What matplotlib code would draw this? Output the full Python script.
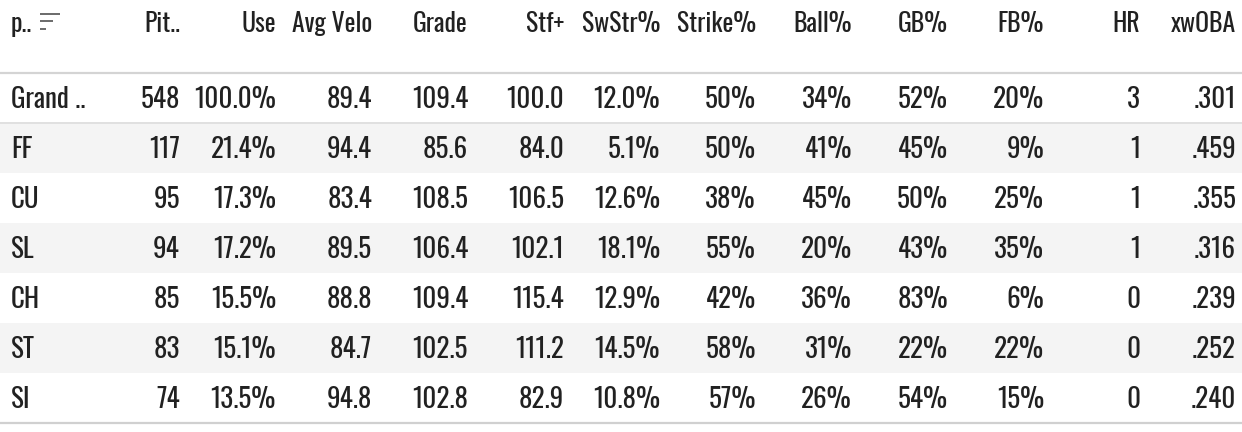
import matplotlib
matplotlib.use('Agg')
import matplotlib.pyplot as plt
from matplotlib.patches import Rectangle
from matplotlib import font_manager
from matplotlib.font_manager import FontProperties

# ---------------------------------------------------------------------------
# Table data
# ---------------------------------------------------------------------------
pitch_types = ['Grand ..', 'FF', 'CU', 'SL', 'CH', 'ST', 'SI']
pitches     = [548, 117, 95, 94, 85, 83, 74]
use_pct     = [100.0, 21.4, 17.3, 17.2, 15.5, 15.1, 13.5]
avg_velo    = [89.4, 94.4, 83.4, 89.5, 88.8, 84.7, 94.8]
grade       = [109.4, 85.6, 108.5, 106.4, 109.4, 102.5, 102.8]
stuff_plus  = [100.0, 84.0, 106.5, 102.1, 115.4, 111.2, 82.9]
swstr_pct   = [12.0, 5.1, 12.6, 18.1, 12.9, 14.5, 10.8]
strike_pct  = [50, 50, 38, 55, 42, 58, 57]
ball_pct    = [34, 41, 45, 20, 36, 31, 26]
gb_pct      = [52, 45, 50, 43, 83, 22, 54]
fb_pct      = [20, 9, 25, 35, 6, 22, 15]
home_runs   = [3, 1, 1, 1, 0, 0, 0]
xwoba       = [0.301, 0.459, 0.355, 0.316, 0.239, 0.252, 0.240]

headers = ['p..', 'Pit..', 'Use', 'Avg Velo', 'Grade', 'Stf+', 'SwStr%',
           'Strike%', 'Ball%', 'GB%', 'FB%', 'HR', 'xwOBA']

columns = [
    [str(v) for v in pitches],
    [f'{v:.1f}%' for v in use_pct],
    [f'{v:.1f}' for v in avg_velo],
    [f'{v:.1f}' for v in grade],
    [f'{v:.1f}' for v in stuff_plus],
    [f'{v:.1f}%' for v in swstr_pct],
    [f'{v}%' for v in strike_pct],
    [f'{v}%' for v in ball_pct],
    [f'{v}%' for v in gb_pct],
    [f'{v}%' for v in fb_pct],
    [str(v) for v in home_runs],
    [f'{v:.3f}'.lstrip('0') for v in xwoba],
]


# pick a condensed face (closest to regular weight) if one is installed
def condensed_font(size):
    for fam in ['Oswald', 'Roboto Condensed', 'Barlow Condensed', 'Liberation Sans Narrow']:
        cands = [f for f in font_manager.fontManager.ttflist
                 if f.name == fam and f.style == 'normal']
        if cands:
            best = min(cands, key=lambda f: abs(int(f.weight) - 400)
                       if str(f.weight).isdigit() else 0)
            return FontProperties(fname=best.fname, size=size)
    return FontProperties(family='DejaVu Sans', stretch='condensed', size=size)


# ---------------------------------------------------------------------------
# Layout (pixel coordinates)
# ---------------------------------------------------------------------------
W, H = 1242, 432
HEADER_H = 73
ROW_H = 50
COL_W = 96
FIRST_RIGHT = 180
TEXT_COLOR = '#212121'
head_fp = condensed_font(18.5)
body_fp = condensed_font(19.5)

fig = plt.figure(figsize=(W / 100, H / 100), dpi=100)
ax = fig.add_axes([0, 0, 1, 1])
ax.set_xlim(0, W)
ax.set_ylim(H, 0)
ax.axis('off')

# row shading
for i in range(len(pitch_types)):
    top = HEADER_H + i * ROW_H
    if i % 2 == 1:
        ax.add_patch(Rectangle((0, top), W, ROW_H, color='#f4f4f4', lw=0, zorder=0))

# borders
ax.plot([0, W], [HEADER_H, HEADER_H], color='#d4d4d4', lw=1.6, zorder=2)
ax.plot([0, W], [HEADER_H + ROW_H, HEADER_H + ROW_H], color='#e0e0e0', lw=1.4, zorder=2)
bottom = HEADER_H + len(pitch_types) * ROW_H
ax.plot([0, W], [bottom, bottom], color='#d0d0d0', lw=1.6, zorder=2)

# header
ax.text(11, 24, headers[0], ha='left', va='center', fontproperties=head_fp,
        color=TEXT_COLOR)
for y, length in [(14, 20), (21, 13), (29, 6)]:
    ax.add_patch(Rectangle((40, y - 1.2), length, 2.6, color='#6e6e6e', lw=0))
for j, h in enumerate(headers[1:]):
    ax.text(FIRST_RIGHT + j * COL_W, 24, h, ha='right', va='center',
            fontproperties=head_fp, color=TEXT_COLOR)

# body
for i, name in enumerate(pitch_types):
    yc = HEADER_H + i * ROW_H + ROW_H / 2 + 1
    ax.text(11, yc, name, ha='left', va='center', fontproperties=body_fp,
            color=TEXT_COLOR)
    for j, col in enumerate(columns):
        ax.text(FIRST_RIGHT + j * COL_W, yc, col[i], ha='right', va='center',
                fontproperties=body_fp, color=TEXT_COLOR)

plt.savefig('out.png', dpi=100)
plt.close()
